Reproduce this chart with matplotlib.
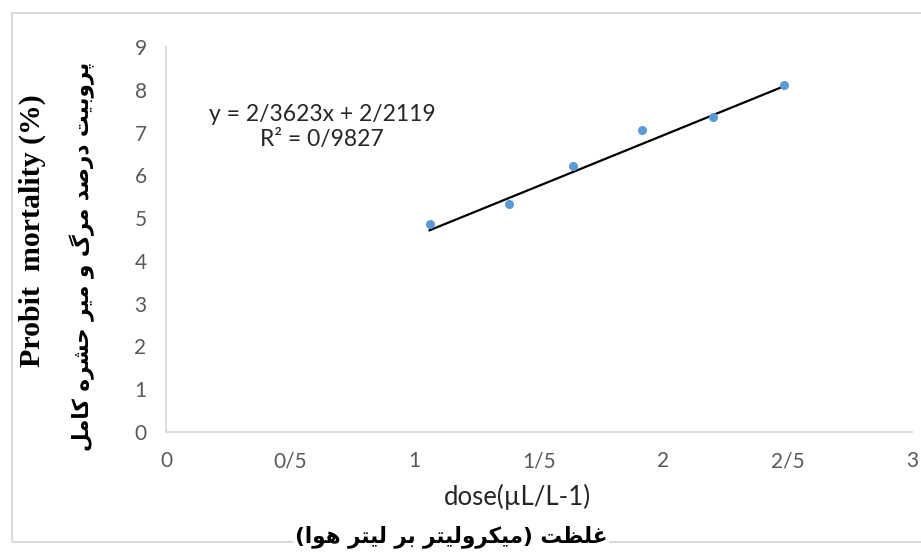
import matplotlib
matplotlib.use("Agg")
import matplotlib.pyplot as plt
from matplotlib.patches import Rectangle
import numpy as np

# ---- data ----
dose = [1.06, 1.38, 1.635, 1.915, 2.2, 2.485]
probit = [4.86, 5.33, 6.22, 7.07, 7.37, 8.12]
slope = 2.3623
intercept = 2.2119
x_ticks = [0, 0.5, 1, 1.5, 2, 2.5, 3]
x_tick_labels = ["0", "0/5", "1", "1/5", "2", "2/5", "3"]
y_ticks = [0, 1, 2, 3, 4, 5, 6, 7, 8, 9]
y_tick_labels = ["0", "1", "2", "3", "4", "5", "6", "7", "8", "9"]
eq_text = "y = 2/3623x + 2/2119\nR² = 0/9827"
x_label = "dose(µL/L-1)"
x_label_fa = "غلظت (میکرولیتر بر لیتر هوا)"
y_label_en = "Probit  mortality (%)"
y_label_fa = "پروبیت درصد مرگ و میر حشره کامل"

# ---- simple Persian shaping (presentation forms + visual order) ----
FORMS = {
    'ا': (0xFE8D, 0xFE8E, None, None),
    'ب': (0xFE8F, 0xFE90, 0xFE91, 0xFE92),
    'پ': (0xFB56, 0xFB57, 0xFB58, 0xFB59),
    'ت': (0xFE95, 0xFE96, 0xFE97, 0xFE98),
    'ح': (0xFEA1, 0xFEA2, 0xFEA3, 0xFEA4),
    'د': (0xFEA9, 0xFEAA, None, None),
    'ر': (0xFEAD, 0xFEAE, None, None),
    'ش': (0xFEB5, 0xFEB6, 0xFEB7, 0xFEB8),
    'ص': (0xFEB9, 0xFEBA, 0xFEBB, 0xFEBC),
    'ظ': (0xFEC5, 0xFEC6, 0xFEC7, 0xFEC8),
    'غ': (0xFECD, 0xFECE, 0xFECF, 0xFED0),
    'ک': (0xFB8E, 0xFB8F, 0xFB90, 0xFB91),
    'گ': (0xFB92, 0xFB93, 0xFB94, 0xFB95),
    'ل': (0xFEDD, 0xFEDE, 0xFEDF, 0xFEE0),
    'م': (0xFEE1, 0xFEE2, 0xFEE3, 0xFEE4),
    'ه': (0xFEE9, 0xFEEA, 0xFEEB, 0xFEEC),
    'و': (0xFEED, 0xFEEE, None, None),
    'ی': (0xFBFC, 0xFBFD, 0xFBFE, 0xFBFF),
}


def shape_fa(s):
    out = []
    for i, c in enumerate(s):
        if c not in FORMS:
            out.append(c)
            continue
        f = FORMS[c]
        prev = s[i - 1] if i > 0 else None
        nxt = s[i + 1] if i + 1 < len(s) else None
        jp = prev in FORMS and FORMS[prev][2] is not None
        jn = f[2] is not None and nxt in FORMS
        if jp and jn:
            g = f[3]
        elif jp:
            g = f[1]
        elif jn:
            g = f[2]
        else:
            g = f[0]
        out.append(chr(g))
    vis = ''.join(reversed(out))
    return vis.translate(str.maketrans("()", ")("))


W, H = 921, 552
fig = plt.figure(figsize=(W / 100, H / 100), dpi=100)
fig.patch.set_facecolor("white")

# outer chart border
fig.add_artist(Rectangle((12 / W, 1 - 542 / H), 1.0, (542 - 13) / H,
                         transform=fig.transFigure, fill=False,
                         edgecolor="#d9d9d9", lw=1.5, zorder=0))

ax = fig.add_axes([166 / W, 1 - 432 / H, (912 - 166) / W, (432 - 47) / H])
ax.set_xlim(0, 3)
ax.set_ylim(0, 9)
for s in ("top", "right"):
    ax.spines[s].set_visible(False)
for s in ("left", "bottom"):
    ax.spines[s].set_color("#d9d9d9")
    ax.spines[s].set_linewidth(1.3)
ax.set_xticks(x_ticks)
ax.set_xticklabels(x_tick_labels)
ax.set_yticks(y_ticks)
ax.set_yticklabels(y_tick_labels)
ax.tick_params(axis="both", length=0, colors="#595959", labelsize=15)
ax.tick_params(axis="y", pad=14)
ax.tick_params(axis="x", pad=14)
for lab in ax.get_xticklabels() + ax.get_yticklabels():
    lab.set_family("Lato")

# trendline from equation
xl = np.array([min(dose), max(dose)])
ax.plot(xl, slope * xl + intercept, color="black", lw=1.6, zorder=2)
ax.plot(dose, probit, "o", color="#5b9bd5", ms=5.5, zorder=3)

# equation
fig.text(322 / W, 1 - 127 / H, eq_text, ha="center", va="center",
         fontsize=16.5, family="Lato", color="#262626", linespacing=1.2)

# axis titles
fig.text(517 / W, 1 - 497 / H, x_label, ha="center", va="center",
         fontsize=18.5, family="Lato", color="#262626")
fig.text(451 / W, 1 - 537 / H, shape_fa(x_label_fa), ha="center", va="center",
         fontsize=15.5, family="DejaVu Sans", weight="bold", color="black",
         bbox=dict(facecolor="white", edgecolor="none", pad=1))
fig.text(32 / W, 1 - 231 / H, y_label_en, ha="center", va="center",
         rotation=90, fontsize=21.5, family="Liberation Serif", weight="bold",
         color="black",
         bbox=dict(facecolor="white", edgecolor="none", pad=2))
fig.text(82 / W, 1 - 256 / H, shape_fa(y_label_fa), ha="center", va="center",
         rotation=90, fontsize=15.5, family="DejaVu Sans", weight="bold",
         color="black")

fig.savefig("out.png", dpi=100, facecolor="white")
